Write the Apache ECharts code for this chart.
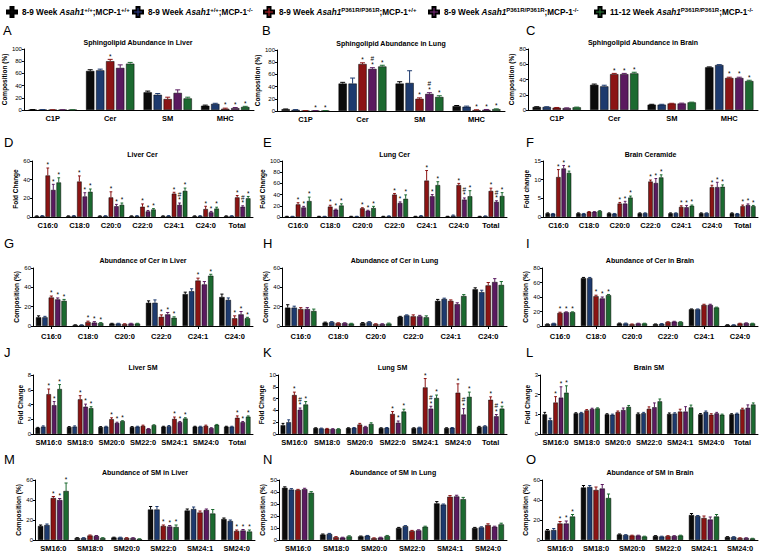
<!DOCTYPE html>
<html><head><meta charset="utf-8">
<script src="https://cdn.jsdelivr.net/npm/echarts/dist/echarts.min.js"></script>
<style>html,body{margin:0;padding:0;background:#fff}#c{width:760px;height:557px}</style>
</head><body><div id="c"></div>
<script>
// ---------- categories ----------
const catsSL = ['C1P', 'Cer', 'SM', 'MHC'];
const catsCerFC = ['C16:0', 'C18:0', 'C20:0', 'C22:0', 'C24:1', 'C24:0', 'Total'];
const catsCerComp = ['C16:0', 'C18:0', 'C20:0', 'C22:0', 'C24:1', 'C24:0'];
const catsSMFC = ['SM16:0', 'SM18:0', 'SM20:0', 'SM22:0', 'SM24:1', 'SM24:0', 'Total'];
const catsSMComp = ['SM16:0', 'SM18:0', 'SM20:0', 'SM22:0', 'SM24:1', 'SM24:0'];

// series order: WT;WT, WT;MCP-1 KO, P361R;WT, P361R;MCP-1 KO, 11-12wk P361R;MCP-1 KO
// ---------- A: Sphingolipid Abundance in Liver ----------
const A_mean = [[0.5, 64, 29, 7], [0.5, 65, 25, 10], [0.3, 80, 18, 2], [0.3, 69, 28, 3], [0.3, 76, 19, 5]];
const A_err = [[0.2, 2, 2, 1], [0.2, 2, 2, 1], [0.1, 3, 3, 1], [0.1, 5, 5, 1], [0.1, 2, 2, 1]];
const A_sig = [['', '', '', ''], ['', '', '', ''], ['', '*', '', '*'], ['', '', '', '*'], ['', '', '', '*']];
// ---------- B: Sphingolipid Abundance in Lung ----------
const B_mean = [[3, 45, 45, 8], [2, 45, 46, 7], [0.5, 77, 20, 1.5], [0.5, 69, 28, 2], [0.5, 73, 23, 3]];
const B_err = [[0.3, 2, 3, 1], [0.3, 9, 20, 1], [0.1, 2, 1.5, 0.5], [0.1, 2, 2, 0.5], [0.1, 2, 2, 0.5]];
const B_sig = [['', '', '', ''], ['', '', '', ''], ['', '*', '*', '*'], ['*', '#\n*', '#\n*', '*'], ['*', '*', '*', '*']];
// ---------- C: Sphingolipid Abundance in Brain ----------
const C_mean = [[4, 33, 7, 56], [4, 31, 7, 59], [3, 47, 8.5, 42], [2.5, 47, 8.5, 42], [3.5, 48, 10, 38]];
const C_err = [[0.3, 1, 0.5, 0.5], [0.3, 1.5, 0.5, 0.5], [0.3, 1, 0.3, 1], [0.3, 1, 0.5, 1], [0.3, 1.5, 0.3, 1]];
const C_sig = [['', '', '', ''], ['', '', '', ''], ['', '*', '', '*'], ['', '*', '', '*'], ['', '*', '', '*']];
// ---------- D: Liver Cer (fold change) ----------
const D_mean = [[1, 1, 1, 1, 1, 1, 1], [1.3, 1.3, 1.2, 1.2, 1.3, 1.2, 1.2], [44.5, 38, 21, 11, 25, 8.5, 21], [29, 22, 11.5, 6, 13, 5, 11], [37, 27, 13, 8, 28, 9, 20]];
const D_err = [[0.2, 0.2, 0.2, 0.2, 0.2, 0.2, 0.2], [0.2, 0.2, 0.2, 0.2, 0.2, 0.2, 0.2], [8, 6, 6, 3, 1.5, 3, 2], [6, 4, 2, 1, 2, 1, 1], [5, 3, 2, 1, 3, 1.5, 2]];
const D_sig = [['', '', '', '', '', '', ''], ['', '', '', '', '', '', ''], ['*', '*', '*', '*', '*', '*', '*'], ['*', '*', '*', '*', '#\n*', '*', '#\n*'], ['*', '*', '*', '*', '*', '*', '*']];
// ---------- E: Lung Cer (fold change) ----------
const E_mean = [[1, 1, 1, 1, 1, 1, 1], [1, 1, 1, 1.5, 2, 2.5, 1.5], [22.5, 18.5, 15.5, 40, 65, 57, 46.5], [17, 13, 11, 25, 37, 31, 27], [28.5, 20.5, 16, 32.5, 57, 37, 37.5]];
const E_err = [[0.3, 0.3, 0.3, 0.3, 0.3, 0.3, 0.3], [0.3, 0.3, 0.3, 0.5, 0.5, 1, 0.5], [3, 2.5, 1, 2, 18, 3, 5], [2, 1, 1, 2, 3, 3, 2], [7, 3, 3, 7, 6, 10, 6]];
const E_sig = [['', '', '', '', '', '', ''], ['', '', '', '', '', '', ''], ['*', '*', '*', '*', '*', '*', '*'], ['*', '*', '*', '*', '*', '#\n*', '#\n*'], ['*', '*', '*', '*', '*', '*', '*']];
// ---------- F: Brain Ceramide (fold change) ----------
const F_mean = [[1, 1, 1, 1, 1, 1, 1], [0.9, 0.9, 0.9, 1.05, 1.05, 1.05, 0.9], [10.7, 1.4, 3.6, 9.5, 2.7, 8, 2.9], [13, 1.4, 3.6, 9.1, 2.6, 8, 3.2], [11.8, 1.6, 5.2, 10.6, 3, 8.1, 2.9]];
const F_err = [[0.1, 0.1, 0.1, 0.1, 0.1, 0.1, 0.1], [0.05, 0.05, 0.05, 0.05, 0.05, 0.05, 0.05], [2, 0.05, 0.3, 0.4, 0.3, 0.5, 0.3], [0.8, 0.05, 0.6, 1.2, 0.5, 1.3, 0.3], [0.5, 0.1, 0.4, 0.7, 0.2, 0.5, 0.2]];
const F_sig = [['', '', '', '', '', '', ''], ['', '', '', '', '', '', ''], ['*', '', '*', '*', '*', '*', '*'], ['*', '', '*', '*', '*', '*', '*'], ['*', '', '*', '*', '*', '*', '*']];
// ---------- G: Abundance of Cer in Liver ----------
const G_mean = [[9, 1, 2.5, 24, 33, 30], [9, 1, 2.5, 24, 36, 27], [29.5, 4, 2, 9.5, 47, 8], [27.5, 3.5, 2.5, 12, 43, 12], [26, 3, 2.5, 8.5, 52, 8]];
const G_err = [[1.5, 0.2, 0.3, 2, 2, 3], [1, 0.2, 0.3, 3, 2.5, 2], [1.5, 1, 0.3, 2, 2.5, 2.5], [1.5, 1, 0.3, 2, 3, 3], [1.5, 0.5, 0.3, 1, 1.5, 1]];
const G_sig = [['', '', '', '', '', ''], ['', '', '', '', '', ''], ['*', '*', '', '*', '*', '*'], ['*', '*', '', '*', '', '*'], ['*', '*', '', '*', '*', '*']];
// ---------- H: Abundance of Cer in Lung ----------
const H_mean = [[19, 3.5, 3, 9.5, 26, 38], [19, 4, 4, 11, 28, 35], [17.5, 3, 2, 10, 26, 42], [17.5, 3, 2, 10, 22.5, 45.5], [15.5, 2.5, 2.5, 9, 31, 42.5]];
const H_err = [[3, 0.5, 0.5, 0.5, 1.5, 1.5], [1.5, 0.5, 0.5, 0.5, 0.8, 2], [1.5, 0.3, 0.3, 1.5, 1, 3], [1.5, 0.3, 0.3, 1, 1.5, 3.5], [2, 0.3, 0.5, 1.5, 1.5, 3.5]];
const H_sig = [['', '', '', '', '', ''], ['', '', '', '', '', ''], ['', '', '', '', '', ''], ['', '', '', '', '', ''], ['', '', '', '', '', '']];
// ---------- I: Abundance of Cer in Brain ----------
const I_mean = [[2.5, 66, 3.5, 2.5, 23, 1.5], [3.5, 66, 3.5, 3, 23, 1.5], [18, 41, 2.5, 5.5, 29, 3.5], [19, 38, 3.5, 6, 29, 4], [19, 42.5, 3.5, 5.5, 25.5, 3.5]];
const I_err = [[0.3, 1, 0.5, 0.3, 0.5, 0.2], [0.3, 1, 0.5, 0.3, 0.5, 0.2], [1, 1.5, 0.3, 0.3, 1, 0.3], [0.5, 2, 0.3, 0.5, 1, 0.3], [0.5, 1, 0.3, 0.3, 0.5, 0.3]];
const I_sig = [['', '', '', '', '', ''], ['', '', '', '', '', ''], ['*', '*', '', '', '', ''], ['*', '*', '', '', '', ''], ['*', '*', '', '', '', '']];
// ---------- J: Liver SM (fold change) ----------
const J_mean = [[0.85, 0.95, 0.95, 0.95, 1.0, 1.0, 1.0], [1.0, 1.0, 1.0, 1.0, 1.05, 1.0, 1.0], [5.4, 4.7, 2.0, 1.1, 2.05, 1.1, 2.2], [3.9, 3.7, 1.5, 0.7, 1.6, 0.8, 1.6], [6.1, 3.5, 1.75, 1.2, 2.1, 1.25, 2.35]];
const J_err = [[0.05, 0.05, 0.05, 0.05, 0.05, 0.05, 0.05], [0.1, 0.1, 0.05, 0.05, 0.1, 0.05, 0.05], [0.7, 0.5, 0.2, 0.1, 0.25, 0.1, 0.25], [0.5, 0.35, 0.1, 0.05, 0.1, 0.05, 0.1], [0.6, 0.2, 0.05, 0.05, 0.1, 0.05, 0.1]];
const J_sig = [['', '', '', '', '', '', ''], ['', '', '', '', '', '', ''], ['*', '*', '*', '', '*', '', '*'], ['*', '*', '*', '', '*', '', '*'], ['*', '*', '*', '', '*', '', '*']];
// ---------- K: Lung SM (fold change) ----------
const K_mean = [[1.5, 1.0, 1.0, 1.0, 1.0, 1.0, 1.2], [2.0, 0.95, 1.05, 1.05, 1.1, 1.05, 1.3], [6.6, 0.9, 1.6, 3.4, 7.9, 7.0, 5.8], [4.1, 0.85, 1.2, 1.9, 4.3, 3.3, 3.0], [5.0, 0.85, 1.7, 3.8, 6.1, 6.3, 4.3]];
const K_err = [[0.3, 0.05, 0.05, 0.05, 0.05, 0.05, 0.1], [0.4, 0.05, 0.05, 0.05, 0.05, 0.05, 0.1], [0.5, 0.05, 0.2, 0.4, 1.5, 1.5, 0.5], [0.3, 0.05, 0.1, 0.3, 0.4, 1.0, 0.3], [0.5, 0.05, 0.2, 0.4, 0.5, 0.8, 0.4]];
const K_sig = [['', '', '', '', '', '', ''], ['', '', '', '', '', '', ''], ['*', '', '', '*', '*', '*', '*'], ['#\n*', '', '', '*', '#\n*', '#\n*', '#\n*'], ['*', '', '', '*', '*', '*', '*']];
// ---------- L: Brain SM (fold change) ----------
const L_mean = [[1.0, 1.05, 1.0, 1.02, 1.02, 1.0, 1.0], [0.7, 1.07, 0.98, 1.06, 1.04, 1.12, 1.03], [1.6, 1.2, 1.12, 1.28, 1.14, 0.98, 1.25], [1.85, 1.27, 1.22, 1.36, 1.14, 1.05, 1.33], [2.1, 1.3, 1.38, 1.66, 1.35, 0.98, 1.5]];
const L_err = [[0.1, 0.03, 0.03, 0.05, 0.05, 0.04, 0.03], [0.1, 0.03, 0.03, 0.04, 0.04, 0.05, 0.03], [0.3, 0.04, 0.05, 0.1, 0.12, 0.05, 0.06], [0.55, 0.04, 0.1, 0.22, 0.25, 0.05, 0.15], [0.35, 0.03, 0.07, 0.12, 0.12, 0.03, 0.08]];
const L_sig = [['', '', '', '', '', '', ''], ['', '', '', '', '', '', ''], ['*', '', '', '', '', '', ''], ['*', '', '', '', '', '', ''], ['*', '', '', '', '', '', '']];
// ---------- M: Abundance of SM in Liver ----------
const M_mean = [[14, 2, 2.5, 30.5, 29.5, 21], [15, 2, 2.5, 30.5, 31, 19], [42, 4.5, 2, 14, 27.5, 9], [40, 4, 2, 13.5, 30, 9.5], [49, 2, 1, 13, 26.5, 8.5]];
const M_err = [[1, 0.3, 0.3, 3, 1.5, 1], [1, 0.3, 0.3, 3, 2, 1], [1.5, 0.5, 0.3, 1, 1.5, 1], [1.5, 0.5, 0.3, 1, 1, 1], [8, 0.3, 0.2, 2, 4, 1.5]];
const M_sig = [['', '', '', '', '', ''], ['', '', '', '', '', ''], ['*', '', '', '*', '', '*'], ['*', '', '', '*', '', '*'], ['*', '', '', '*', '', '*']];
// ---------- N: Abundance of SM in Lung ----------
const N_mean = [[43.5, 4.5, 3, 10, 30.5, 10], [42, 5, 3.5, 11.5, 29.5, 10.5], [41.7, 2.3, 1.5, 7.5, 36, 12.5], [42.3, 2, 2, 8, 36.3, 11], [39.3, 3, 3.3, 11, 34, 13]];
const N_err = [[0.8, 0.5, 0.3, 0.5, 1.5, 0.5], [0.8, 0.5, 0.3, 0.5, 0.5, 0.5], [0.5, 0.5, 0.3, 0.5, 1, 1], [0.8, 0.3, 0.3, 0.5, 1, 0.5], [1, 0.5, 0.5, 0.5, 1.5, 1]];
const N_sig = [['', '', '', '', '', ''], ['', '', '', '', '', ''], ['', '', '', '', '', ''], ['', '', '', '', '', ''], ['', '', '', '', '', '']];
// ---------- O: Abundance of SM in Brain ----------
const O_mean = [[9.5, 52.5, 5.5, 4, 25, 3], [10, 53, 5, 3.5, 24, 3], [16.5, 50, 4.5, 4, 22, 2], [16.5, 51.5, 4.5, 4, 20.5, 2], [23.5, 42, 3.5, 4.5, 23.5, 1.5]];
const O_err = [[1, 2, 0.5, 0.3, 1.5, 0.3], [1.5, 1.5, 0.3, 0.3, 0.5, 0.3], [2, 3, 0.3, 0.3, 2, 0.2], [2.5, 4, 0.3, 0.3, 2.5, 0.2], [2, 4, 0.3, 0.3, 2, 0.2]];
const O_sig = [['', '', '', '', '', ''], ['', '', '', '', '', ''], ['*', '', '', '', '', ''], ['*', '', '', '', '', ''], ['*', '', '', '', '', '']];

// ---------- text ----------
const seriesNames = ['g0', 'g1', 'g2', 'g3', 'g4'];
const legendRich = {
  g0: '{t|8-9 Week }{i|Asah1}{s|+/+}{t|;MCP-1}{s|+/+}',
  g1: '{t|8-9 Week }{i|Asah1}{s|+/+}{t|;MCP-1}{s|-/-}',
  g2: '{t|8-9 Week }{i|Asah1}{s|P361R/P361R}{t|;MCP-1}{s|+/+}',
  g3: '{t|8-9 Week }{i|Asah1}{s|P361R/P361R}{t|;MCP-1}{s|-/-}',
  g4: '{t|11-12 Week }{i|Asah1}{s|P361R/P361R}{t|;MCP-1}{s|-/-}'
};
const panelLetters = ['A','B','C','D','E','F','G','H','I','J','K','L','M','N','O'];
const panelTitles = ['Sphingolipid Abundance in Liver', 'Sphingolipid Abundance in Lung', 'Sphingolipid Abundance in Brain',
  'Liver Cer', 'Lung Cer', 'Brain Ceramide',
  'Abundance of Cer in Liver', 'Abundance of Cer in Lung', 'Abundance of Cer in Brain',
  'Liver SM', 'Lung SM', 'Brain SM',
  'Abundance of SM in Liver', 'Abundance of SM in Lung', 'Abundance of SM in Brain'];
const yNames = ['Composition (%)','Composition (%)','Composition (%)','Fold Change','Fold Change','Fold change',
  'Composition (%)','Composition (%)','Composition (%)','Fold Change','Fold Change','Fold Change',
  'Composition (%)','Composition (%)','Composition (%)'];
const yMax = [100, 100, 80, 60, 100, 15, 60, 60, 80, 8, 10, 3, 60, 50, 60];
const yStep = [20, 20, 20, 20, 20, 5, 20, 20, 20, 2, 2, 1, 20, 10, 20];

const panelData = [
  [catsSL, A_mean, A_err, A_sig], [catsSL, B_mean, B_err, B_sig], [catsSL, C_mean, C_err, C_sig],
  [catsCerFC, D_mean, D_err, D_sig], [catsCerFC, E_mean, E_err, E_sig], [catsCerFC, F_mean, F_err, F_sig],
  [catsCerComp, G_mean, G_err, G_sig], [catsCerComp, H_mean, H_err, H_sig], [catsCerComp, I_mean, I_err, I_sig],
  [catsSMFC, J_mean, J_err, J_sig], [catsSMFC, K_mean, K_err, K_sig], [catsSMFC, L_mean, L_err, L_sig],
  [catsSMComp, M_mean, M_err, M_sig], [catsSMComp, N_mean, N_err, N_sig], [catsSMComp, O_mean, O_err, O_sig]
];

// ---------- layout (pixels): left, top, right, bottom of plot area; title y; letter x, letter centre y ----------
const LAYOUT = [
  [22, 49, 254, 110, 42, 3, 31], [277, 50, 505, 111, 43, 262, 31], [528, 49, 758, 110, 42, 526, 31],
  [32, 161, 253, 217, 154, 4, 143], [282, 161, 507, 217, 154, 263, 143], [543, 161, 758, 217, 154, 526, 143],
  [33, 268, 253, 326, 260, 4, 244], [282, 268, 507, 326, 260, 263, 244], [542, 268, 758, 326, 260, 526, 244],
  [33, 375, 253, 434, 367, 4, 353], [278, 375, 507, 434, 367, 263, 353], [540, 375, 758, 434, 367, 526, 353],
  [35, 480, 255, 540, 472, 4, 460], [279, 480, 507, 540, 472, 263, 460], [542, 480, 758, 540, 472, 526, 460]
];
const NAME_GAP = [13, 13, 13, 11, 13, 10, 11, 11, 11, 9, 11, 9, 11, 11, 11];
const SHOW_XTICK = [false,false,false,false,false,false,true,true,true,false,false,false,false,false,false];
const LEGEND_LEFT = [1, 127, 258, 423, 589];

const BAR_COL = ['#0b0b0b', '#1d3a6e', '#8b1414', '#5a1a5f', '#1c6a30'];
const LEG_COL = ['#0b0b0b', '#2c3c8c', '#c3262c', '#7a2a7c', '#2a7c3a'];
const CAT_GAP = 0.16, BAR_GAP = 0.2;
const FONT = 'Liberation Sans, Arial, sans-serif';

const chart = echarts.init(document.getElementById('c'), null, {renderer: 'svg'});

const grids = [], xAxes = [], yAxes = [], series = [], graphics = [];
panelData.forEach((P, k) => {
  const [cats, mean, err, sig] = P;
  const L = LAYOUT[k];
  grids.push({left: L[0], top: L[1], width: L[2] - L[0], height: L[3] - L[1], containLabel: false});
  xAxes.push({
    type: 'category', gridIndex: k, data: cats,
    axisLine: {lineStyle: {color: '#000', width: 1}},
    axisTick: {show: SHOW_XTICK[k], alignWithLabel: true, length: 3, lineStyle: {color: '#000'}},
    axisLabel: {color: '#000', fontSize: 7.5, fontWeight: 'bold', fontFamily: FONT, margin: SHOW_XTICK[k] ? 6 : 4, interval: 0},
    splitLine: {show: false}
  });
  yAxes.push({
    type: 'value', gridIndex: k, min: 0, max: yMax[k], interval: yStep[k],
    name: yNames[k], nameLocation: 'middle', nameGap: NAME_GAP[k],
    nameTextStyle: {color: '#000', fontSize: 6.5, fontWeight: 'bold', fontFamily: FONT},
    axisLine: {show: true, lineStyle: {color: '#000', width: 1}},
    axisTick: {show: true, length: 2, lineStyle: {color: '#000'}},
    axisLabel: {color: '#000', fontSize: 6, fontFamily: FONT, margin: 2},
    splitLine: {show: false}
  });
  for (let s = 0; s < 5; s++) {
    series.push({
      type: 'bar', name: seriesNames[s], xAxisIndex: k, yAxisIndex: k, data: mean[s],
      barGap: (BAR_GAP * 100) + '%', barCategoryGap: (CAT_GAP * 100) + '%',
      itemStyle: {color: BAR_COL[s], borderColor: '#000', borderWidth: 0.5},
      silent: true, animation: false
    });
  }
  const entries = [];
  for (let s = 0; s < 5; s++) for (let c = 0; c < cats.length; c++) entries.push([c, s, mean[s][c], err[s][c]]);
  series.push({
    type: 'custom', name: 'err' + k, xAxisIndex: k, yAxisIndex: k, data: entries, silent: true, animation: false, z: 5,
    renderItem: function (params, api) {
      const c = api.value(0), s = api.value(1), m = api.value(2), e = api.value(3);
      const band = api.size([1, 0])[0];
      const bw = band * (1 - CAT_GAP) / (5 + 4 * BAR_GAP);
      const total = bw * (5 + 4 * BAR_GAP);
      const p0 = api.coord([c, m]);
      const x = p0[0] - total / 2 + bw / 2 + s * bw * (1 + BAR_GAP);
      const y0 = p0[1];
      const y1 = api.coord([c, m + e])[1];
      const cap = bw * 0.3;
      const col = s === 0 ? '#000' : BAR_COL[s];
      const children = [
        {type: 'line', shape: {x1: x, y1: y0, x2: x, y2: y1}, style: {stroke: col, lineWidth: 1}},
        {type: 'line', shape: {x1: x - cap, y1: y1, x2: x + cap, y2: y1}, style: {stroke: col, lineWidth: 1}}
      ];
      const sg = sig[s][c];
      if (sg) {
        children.push({type: 'text', style: {text: sg, x: x, y: y1 - 0.5, align: 'center', verticalAlign: 'bottom',
          textAlign: 'center', textVerticalAlign: 'bottom', fontSize: 6.5, lineHeight: 5.5, fontFamily: FONT, fill: '#000'}});
      }
      return {type: 'group', children: children};
    }
  });
  graphics.push({type: 'text', left: L[5], top: L[6] - 7, style: {text: panelLetters[k], fontSize: 13, fontFamily: FONT, fill: '#000'}});
  graphics.push({type: 'text', x: (L[0] + L[2]) / 2, y: L[4],
    style: {text: panelTitles[k], align: 'center', verticalAlign: 'middle', textAlign: 'center', textVerticalAlign: 'middle',
      fontSize: 7, fontWeight: 'bold', fontFamily: FONT, fill: '#000'}});
});

const crossIcon = 'path://M3.5,0 H6.5 V3.5 H10 V6.5 H6.5 V10 H3.5 V6.5 H0 V3.5 H3.5 Z';
const legends = seriesNames.map((n, i) => ({
  top: 1, left: LEGEND_LEFT[i], itemWidth: 10, itemHeight: 10, itemGap: 0, icon: crossIcon, selectedMode: false,
  data: [{name: n, itemStyle: {color: LEG_COL[i]}}],
  formatter: nm => legendRich[nm],
  textStyle: {
    rich: {
      t: {fontSize: 8.2, fontWeight: 'bold', fontFamily: FONT, color: '#000', lineHeight: 11, verticalAlign: 'middle'},
      i: {fontSize: 8.2, fontWeight: 'bold', fontStyle: 'italic', fontFamily: FONT, color: '#000', lineHeight: 11, verticalAlign: 'middle'},
      s: {fontSize: 6, fontWeight: 'bold', fontFamily: FONT, color: '#000', lineHeight: 6, verticalAlign: 'top'}
    }
  }
}));

chart.setOption({
  backgroundColor: '#fff',
  animation: false,
  legend: legends,
  grid: grids, xAxis: xAxes, yAxis: yAxes, series: series, graphic: graphics
});
</script></body></html>
